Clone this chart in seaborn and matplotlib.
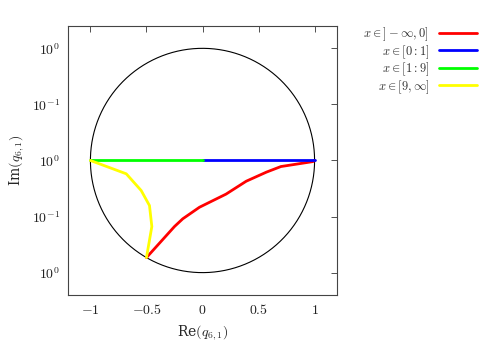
import numpy as np
import pandas as pd
import matplotlib
matplotlib.use("Agg")
import matplotlib.pyplot as plt
import seaborn as sns

# Data
red_x = [-0.50, -0.25, -0.176, -0.027, 0.21, 0.39, 0.57, 0.70, 0.985, 1.0]
red_y = [-0.866, -0.589, -0.52, -0.417, -0.30, -0.185, -0.104, -0.054, -0.01, 0.0]
blue_x = [0.0, 1.0]
blue_y = [0.0, 0.0]
green_x = [-1.0, 0.0]
green_y = [0.0, 0.0]
yellow_x = [-1.0, -0.68, -0.547, -0.473, -0.452, -0.50]
yellow_y = [0.0, -0.119, -0.268, -0.402, -0.589, -0.866]

labels = [r"$x \in ]-\infty,0]$", r"$x \in [0:1]$", r"$x \in [1:9]$", r"$x \in [9,\infty]$"]
colors = ["#ff0000", "#0000ff", "#00ff00", "#ffff00"]

xticks = [-1, -0.5, 0, 0.5, 1]
xticklabels = [r"$-1$", r"$-0.5$", r"$0$", r"$0.5$", r"$1$"]
yticks = [1, 0.5, 0, -0.5, -1]
yticklabels = [r"$10^{0}$", r"$10^{-1}$", r"$10^{0}$", r"$10^{-1}$", r"$10^{0}$"]

sns.set_style("white")
plt.rcParams["font.family"] = ["DejaVu Serif"]
plt.rcParams["mathtext.fontset"] = "cm"

fig = plt.figure(figsize=(5, 3.5), dpi=100)
ax = fig.add_axes([0.136, 0.157, 0.538, 0.769])

# unit circle
t = np.linspace(0, 2 * np.pi, 400)
circ = pd.DataFrame({"x": np.cos(t), "y": np.sin(t)})
sns.lineplot(data=circ, x="x", y="y", sort=False, estimator=None, color="black",
             lw=0.8, ax=ax, legend=False)

series = [(red_x, red_y), (blue_x, blue_y), (green_x, green_y), (yellow_x, yellow_y)]
for (xs, ys), lab, c in zip(series, labels, colors):
    sns.lineplot(x=xs, y=ys, sort=False, estimator=None, color=c, lw=2, ax=ax, label=lab)

ax.set_xlim(-1.2, 1.2)
ax.set_ylim(-1.2, 1.2)
ax.set_xticks(xticks)
ax.set_xticklabels(xticklabels)
ax.set_yticks(yticks)
ax.set_yticklabels(yticklabels)
ax.tick_params(direction="in", length=4, width=0.6, top=True, right=True,
               labelsize=10, colors="#333333", labelcolor="#222222", pad=6)
for s in ax.spines.values():
    s.set_visible(True)
    s.set_color("#444444")
    s.set_linewidth(0.8)

ax.set_xlabel(r"Re$(q_{6,1})$", fontsize=10, family="serif")
ax.set_ylabel(r"Im$(q_{6,1})$", fontsize=10, family="serif")

leg = ax.legend(loc="upper right", bbox_to_anchor=(0.966, 0.945), bbox_transform=fig.transFigure,
                frameon=False, markerfirst=False, fontsize=9, handlelength=3.0,
                handletextpad=0.8, labelspacing=0.0, borderpad=0)
for txt in leg.get_texts():
    txt.set_color("#333333")

fig.savefig("out.png", dpi=100)
